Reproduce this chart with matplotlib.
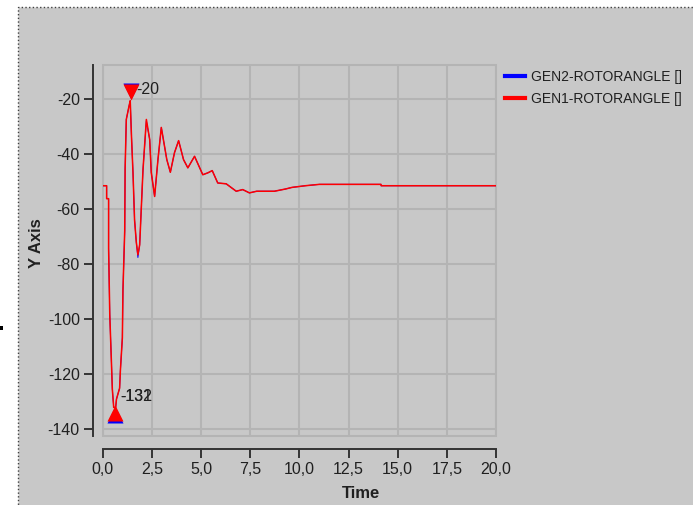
import matplotlib
matplotlib.use('Agg')
import matplotlib.pyplot as plt
from matplotlib.patches import Rectangle

plt.rcParams['font.family'] = ['Liberation Sans', 'DejaVu Sans']
plt.rcParams['axes.unicode_minus'] = False

# rotor angle traces (time in s, angle in deg)
time = [0.0, 0.20, 0.20, 0.30, 0.30, 0.36, 0.44, 0.49, 0.56, 0.66, 0.70, 0.86,
        0.90, 1.00, 1.03, 1.12, 1.14, 1.20, 1.34, 1.40, 1.46, 1.54, 1.62, 1.71,
        1.79, 1.88, 1.96, 2.05, 2.22, 2.39, 2.47, 2.64, 2.81, 2.98, 3.26, 3.44,
        3.65, 3.86, 4.11, 4.33, 4.67, 5.09, 5.35, 5.57, 5.85, 6.28, 6.79, 7.12,
        7.46, 7.83, 8.73, 9.29, 9.63, 10.30, 11.02, 14.15, 14.16, 20.0]
gen1 = [-51.4, -51.4, -56.1, -56.1, -74.0, -98.4, -114.8, -125.4, -132.0, -132.0,
        -129.0, -125.0, -118.5, -106.7, -89.3, -67.8, -45.2, -27.3, -22.4, -20.5,
        -32.8, -46.6, -63.8, -72.0, -76.5, -72.9, -60.0, -45.5, -27.3, -34.6,
        -46.6, -55.3, -41.9, -30.2, -41.9, -46.5, -39.4, -35.0, -41.9, -44.9,
        -40.7, -47.4, -46.7, -45.9, -50.4, -50.7, -53.4, -52.8, -54.0, -53.4,
        -53.4, -52.6, -52.0, -51.4, -50.9, -50.9, -51.4, -51.4]
gen2 = [-51.4, -51.4, -56.1, -56.1, -74.0, -98.4, -114.8, -125.4, -132.0, -132.0,
        -129.0, -125.0, -118.5, -106.7, -89.3, -67.8, -45.2, -27.3, -22.4, -20.5,
        -32.8, -46.6, -63.8, -72.0, -77.5, -72.9, -60.0, -45.5, -27.8, -34.6,
        -46.6, -55.3, -41.9, -30.2, -41.9, -46.5, -39.4, -35.0, -41.9, -44.9,
        -40.7, -47.4, -46.7, -45.9, -50.4, -50.7, -53.4, -52.8, -54.0, -53.4,
        -53.4, -52.6, -52.0, -51.4, -50.9, -50.9, -51.4, -51.4]

series_labels = ['GEN2-ROTORANGLE []', 'GEN1-ROTORANGLE []']

# max / min markers and their annotations
max_t, max_v, max_text = 1.42, -17.3, '-20'
min_t, min_v = 0.65, -134.1
min_texts = ['-131', '-132']

x_ticks = [0, 2.5, 5, 7.5, 10, 12.5, 15, 17.5, 20]
x_tick_labels = ['0,0', '2,5', '5,0', '7,5', '10,0', '12,5', '15,0', '17,5', '20,0']
y_ticks = [-20, -40, -60, -80, -100, -120, -140]

W, H = 693, 505
fig = plt.figure(figsize=(W / 100, H / 100), dpi=100)
fig.patch.set_facecolor('white')

panel = Rectangle((18 / W, -0.01), 1.0, 1 - 7 / H + 0.01, transform=fig.transFigure,
                  facecolor='#c8c8c8', edgecolor='#404040', linestyle=':', lw=1, zorder=0)
fig.add_artist(panel)
fig.add_artist(Rectangle((0, 1 - 330 / H), 3 / W, 4 / H, transform=fig.transFigure,
                         facecolor='black', edgecolor='none'))

ax = fig.add_axes([102.7 / W, 1 - 436 / H, 393.3 / W, 371 / H])
ax.set_facecolor('#c8c8c8')

ax.plot(time, gen2, color='#0000ff', lw=0.7, label=series_labels[0])
ax.plot(time, gen1, color='#ff0000', lw=1.1, label=series_labels[1])

ax.plot([max_t], [max_v + 0.5], marker='v', ms=12, color='#0000ff', mec='none', ls='none')
ax.plot([max_t], [max_v], marker='v', ms=12, color='#ff0000', mec='none', ls='none')
ax.plot([min_t], [min_v - 0.5], marker='^', ms=12, color='#0000ff', mec='none', ls='none')
ax.plot([min_t], [min_v], marker='^', ms=12, color='#ff0000', mec='none', ls='none')

ax.text(1.73, -16.4, max_text, fontsize=11.5, color='#202020', va='center', ha='left')
for s in min_texts:
    ax.text(0.89, -128.1, s, fontsize=11.5, color='#202020', va='center', ha='left')

ax.set_xlim(0, 20)
ax.set_ylim(-142.4, -7.5)
ax.set_xticks(x_ticks)
ax.set_xticklabels(x_tick_labels)
ax.set_yticks(y_ticks)

ax.grid(True, color='#b4b4b4', lw=1.5)
ax.set_axisbelow(True)
ax.add_patch(Rectangle((0, 0), 1, 1, transform=ax.transAxes, fill=False,
                       edgecolor='#b4b4b4', lw=1.5, clip_on=False, zorder=0.5))

for side in ['top', 'right']:
    ax.spines[side].set_visible(False)
ax.spines['left'].set_position(('outward', 7))
ax.spines['bottom'].set_position(('outward', 9))
for side in ['left', 'bottom']:
    ax.spines[side].set_color('#333333')
    ax.spines[side].set_linewidth(1.4)

ax.tick_params(direction='out', length=6.5, width=1.4, color='#333333',
               labelsize=11.5, labelcolor='#202020', pad=3)

ax.set_xlabel('Time', fontsize=12, fontweight='bold', color='#202020', va='center')
ax.xaxis.set_label_coords(0.657, -0.155)
ax.set_ylabel('Y Axis', fontsize=12, fontweight='bold', color='#202020', va='center')
ax.yaxis.set_label_coords(-0.168, 0.521)

leg = ax.legend(loc='upper left', bbox_to_anchor=(505 / W, 1 - 70 / H),
                bbox_transform=fig.transFigure, frameon=False, fontsize=10,
                handlelength=1.45, handletextpad=0.45, labelspacing=0.55,
                borderpad=0, borderaxespad=0)
for line in leg.get_lines():
    line.set_linewidth(3)
for t in leg.get_texts():
    t.set_color('#202020')

fig.savefig('out.png', dpi=100)
